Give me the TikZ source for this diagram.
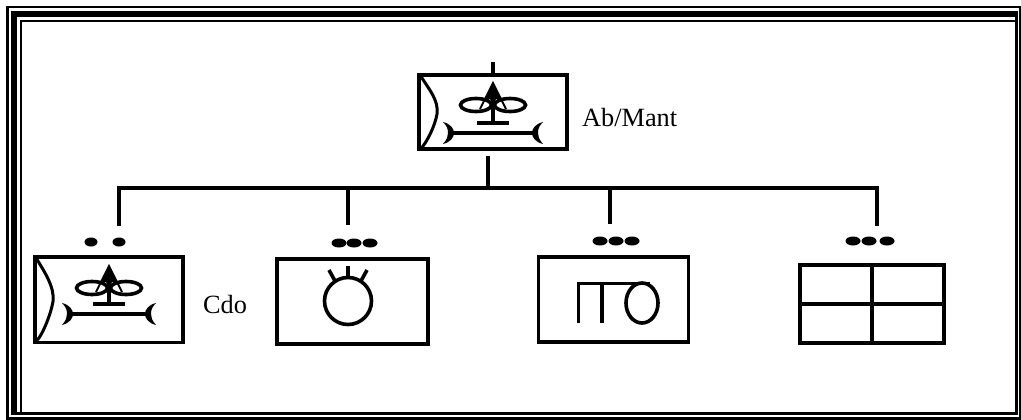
\documentclass[tikz,border=0pt]{standalone}
\usepackage{fontspec}
\setmainfont{Liberation Serif}
\tikzset{
  x=1pt,y=-1pt,
  heavy/.style={line width=4pt},
  med/.style={line width=3.6pt},
  conn/.style={line width=4pt},
  iconbox/.style={draw,line width=3.6pt,fill=white,inner sep=0pt,rectangle},
  lab/.style={inner sep=0pt,anchor=base west,font=\fontsize{26.3}{27}\selectfont},
}
% #1 = box left, #2 = box top, #3 = y offset of lower parts, #4 = box height, #5 = crescent inset
\newcommand{\aircraftsym}[5]{%
  \begin{scope}[shift={(#1,#2)}]
    \draw[line width=3pt] (3,2.5) .. controls (10,14) and (21,#4*0.5-12) .. (19,#4*0.5+2) .. controls (17,#4*0.5+14) and (9,#4-8) .. (3,#4-1.5);
    \draw[line width=3.6pt] (58,31) ellipse (15.5 and 6.5);
    \draw[line width=3.6pt] (92,31) ellipse (15.5 and 6.5);
    \fill (75,9) -- (83.5,27) -- (78,25) -- (75,31) -- (72,25) -- (66.5,27) -- cycle;
    \draw[line width=2pt] (62,35) -- (75,9) -- (88,35);
    \draw[line width=3.6pt] (75,28) -- (75,#3+49);
    \draw[line width=4pt] (59,#3+49) -- (91,#3+49);
    \draw[line width=4pt] (#5+8,#3+59) -- (150-#5-8,#3+59);
    \fill (#5,#3+48) .. controls (#5+8,#3+50) and (#5+11,#3+55) .. (#5+11,#3+59) .. controls (#5+11,#3+63) and (#5+8,#3+68) .. (#5,#3+70) .. controls (#5+4,#3+65) and (#5+5,#3+63) .. (#5+5,#3+59) .. controls (#5+5,#3+55) and (#5+4,#3+52) .. (#5,#3+48) -- cycle;
    \fill (150-#5,#3+48) .. controls (150-#5-8,#3+50) and (150-#5-11,#3+55) .. (150-#5-11,#3+59) .. controls (150-#5-11,#3+63) and (150-#5-8,#3+68) .. (150-#5,#3+70) .. controls (150-#5-4,#3+65) and (150-#5-5,#3+63) .. (150-#5-5,#3+59) .. controls (150-#5-5,#3+55) and (150-#5-4,#3+52) .. (150-#5,#3+48) -- cycle;
  \end{scope}}
\begin{document}
\begin{tikzpicture}
\useasboundingbox (0,0) rectangle (1021,420);
\fill[white] (0,0) rectangle (1021,420);
% frame
\fill (6,6) rectangle (1021,420);
\fill[white] (8.5,8.5) rectangle (1019.3,416.7);
\fill (11,11) rectangle (1018,415);
\fill[white] (17,17) rectangle (1015,412);
\fill (19.7,19.7) rectangle (1015,412);
\fill[white] (22,22) rectangle (1015,412);
% boxes
\node[iconbox,minimum width=148pt,minimum height=74.5pt] (ab) at (493,112) {};
\node[iconbox,minimum width=148pt,minimum height=85.6pt] (cdo) at (109,299.5) {};
\node[iconbox,minimum width=151pt,minimum height=85pt] (lamp) at (352.2,301.5) {};
\node[iconbox,minimum width=150pt,minimum height=85pt] (ito) at (613.3,299.2) {};
\node[iconbox,line width=4pt,minimum width=144pt,minimum height=77.6pt] (grid) at (872,303.8) {};
% connector tree
\coordinate (topstub) at (493,62);
\coordinate (abtop) at (493,74);
\coordinate (abfoot) at (488,156);
\coordinate (junction) at (488,188);
\coordinate (busL) at (119,188);
\coordinate (busR) at (877,188);
\coordinate (d2top) at (348,188);
\coordinate (d3top) at (610,188);
\coordinate (d1end) at (119,226);
\coordinate (d2end) at (348,225);
\coordinate (d3end) at (610,224);
\coordinate (d4end) at (877,226);
\draw[conn] (topstub) -- (abtop);
\draw[conn] (abfoot) -- (junction);
\draw[conn,line cap=rect] (busL) -- (busR);
\draw[conn] (busL) -- (d1end);
\draw[conn] (d2top) -- (d2end);
\draw[conn] (d3top) -- (d3end);
\draw[conn] (busR) -- (d4end);
% symbols
\aircraftsym{418}{74}{0}{76}{25}
\aircraftsym{34}{257}{-2}{85}{28}
% labels
\node[lab] (ablabel) at (582,127) {Ab/Mant};
\node[lab] (cdolabel) at (203,313) {Cdo};
% dots
\foreach \x in {91,119} \fill (\x,242) ellipse (6.5 and 4.5);
\foreach \x in {339,354,370} \fill (\x,243) ellipse (7.5 and 4.5);
\foreach \x in {600,616,632} \fill (\x,241) ellipse (7.5 and 4.5);
\foreach \x in {853,869,887} \fill (\x,241) ellipse (7.5 and 4.5);
% lamp symbol
\draw[med] (348,301) circle (23.5);
\draw[med] (348,266) -- (348,278);
\draw[med] (329,270) -- (335,281);
\draw[med] (367,270) -- (361,281);
% ito symbol
\draw[med] (578.5,323) -- (578.5,283.5) -- (650,283.5);
\draw[med] (602,283.5) -- (602,323);
\draw[med] (642,303) ellipse (16 and 20);
% grid
\draw[heavy] (872,265) -- (872,343);
\draw[heavy] (800,304) -- (944,304);
\end{tikzpicture}
\end{document}
